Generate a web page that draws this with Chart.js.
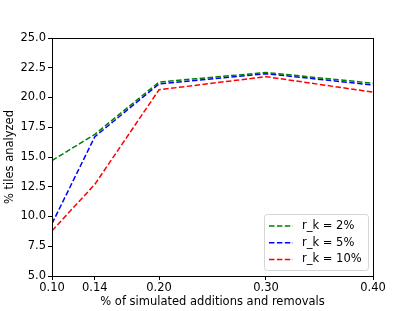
<!DOCTYPE html>
<html><head><meta charset="utf-8">
<script src="https://cdn.jsdelivr.net/npm/chart.js@4"></script>
<style>html,body{margin:0;padding:0;background:#fff}#wrap{width:415px;height:311px}</style>
</head><body><div id="wrap"><canvas id="c" width="415" height="311"></canvas></div>
<script>
const xTicks = [0.10, 0.14, 0.20, 0.30, 0.40];
const xValues = [0.10, 0.14, 0.20, 0.30, 0.40];
const seriesLabels = ['r_k = 2%', 'r_k = 5%', 'r_k = 10%'];
const r2 = [14.7, 16.9, 21.3, 22.1, 21.2];
const r5 = [9.4, 16.7, 21.15, 22.0, 21.05];
const r10 = [8.8, 12.7, 20.65, 21.75, 20.45];
const colors = ['#008000', '#0000ff', '#ff0000'];

const FONT = 'DejaVu Sans';
const FS = 11.5;
Chart.defaults.font.family = FONT;
Chart.defaults.font.size = FS;
Chart.defaults.color = '#000';

function mk(vals, i) {
  return {
    label: seriesLabels[i],
    data: xValues.map((x, k) => ({x: x, y: vals[k]})),
    borderColor: colors[i], backgroundColor: colors[i],
    borderWidth: 1.5, borderDash: [5.5, 2.4], pointRadius: 0, tension: 0, fill: false
  };
}

const frame = {
  id: 'frame',
  afterDraw(chart) {
    const {ctx, chartArea: a} = chart;
    ctx.save();
    ctx.strokeStyle = '#000'; ctx.lineWidth = 1;
    ctx.strokeRect(Math.round(a.left) + 0.5, Math.round(a.top) + 0.5, Math.round(a.right - a.left), Math.round(a.bottom - a.top));
    // legend
    ctx.font = FS + 'px ' + FONT;
    const w = 104, h = 56;
    const x0 = a.right - 5 - w, y0 = a.bottom - 6 - h;
    ctx.globalAlpha = 0.8;
    ctx.fillStyle = '#fff';
    ctx.strokeStyle = '#cccccc';
    ctx.beginPath();
    ctx.roundRect(x0 + 0.5, y0 + 0.5, w, h, 3);
    ctx.fill(); ctx.stroke();
    ctx.globalAlpha = 1;
    chart.data.datasets.forEach((ds, i) => {
      const cy = y0 + 12 + i * 16.7;
      ctx.strokeStyle = ds.borderColor; ctx.lineWidth = 1.5;
      ctx.setLineDash([5.5, 2.4]);
      ctx.beginPath(); ctx.moveTo(x0 + 5, cy); ctx.lineTo(x0 + 29, cy); ctx.stroke();
      ctx.setLineDash([]);
      ctx.fillStyle = '#000'; ctx.textBaseline = 'middle'; ctx.textAlign = 'left';
      ctx.fillText(ds.label, x0 + 38, cy);
    });
    ctx.restore();
  }
};

new Chart(document.getElementById('c'), {
  type: 'line',
  data: { datasets: [mk(r2, 0), mk(r5, 1), mk(r10, 2)] },
  options: {
    responsive: false, animation: false,
    layout: { padding: { left: 0, right: 42, top: 38, bottom: 0 } },
    plugins: { legend: { display: false }, tooltip: { enabled: false } },
    scales: {
      x: {
        type: 'linear', min: 0.10, max: 0.40,
        afterBuildTicks: s => { s.ticks = xTicks.map(v => ({value: v})); },
        afterFit: s => { s.height = 35; },
        ticks: { callback: v => Number(v).toFixed(2), maxRotation: 0, autoSkip: false, padding: 1, color: '#000' },
        grid: { drawOnChartArea: false, drawTicks: true, tickLength: 4, tickColor: '#000' },
        border: { display: true, color: '#000' },
        title: { display: true, text: '% of simulated additions and removals', color: '#000', padding: { top: 0, bottom: 2 } }
      },
      y: {
        min: 5, max: 25,
        afterFit: s => { s.width = 52; },
        ticks: { stepSize: 2.5, callback: v => Number(v).toFixed(1), padding: 2, color: '#000' },
        grid: { drawOnChartArea: false, drawTicks: true, tickLength: 4, tickColor: '#000' },
        border: { display: true, color: '#000' },
        title: { display: true, text: '% tiles analyzed', color: '#000', padding: { top: 3, bottom: 2 } }
      }
    }
  },
  plugins: [frame]
});
</script></body></html>
